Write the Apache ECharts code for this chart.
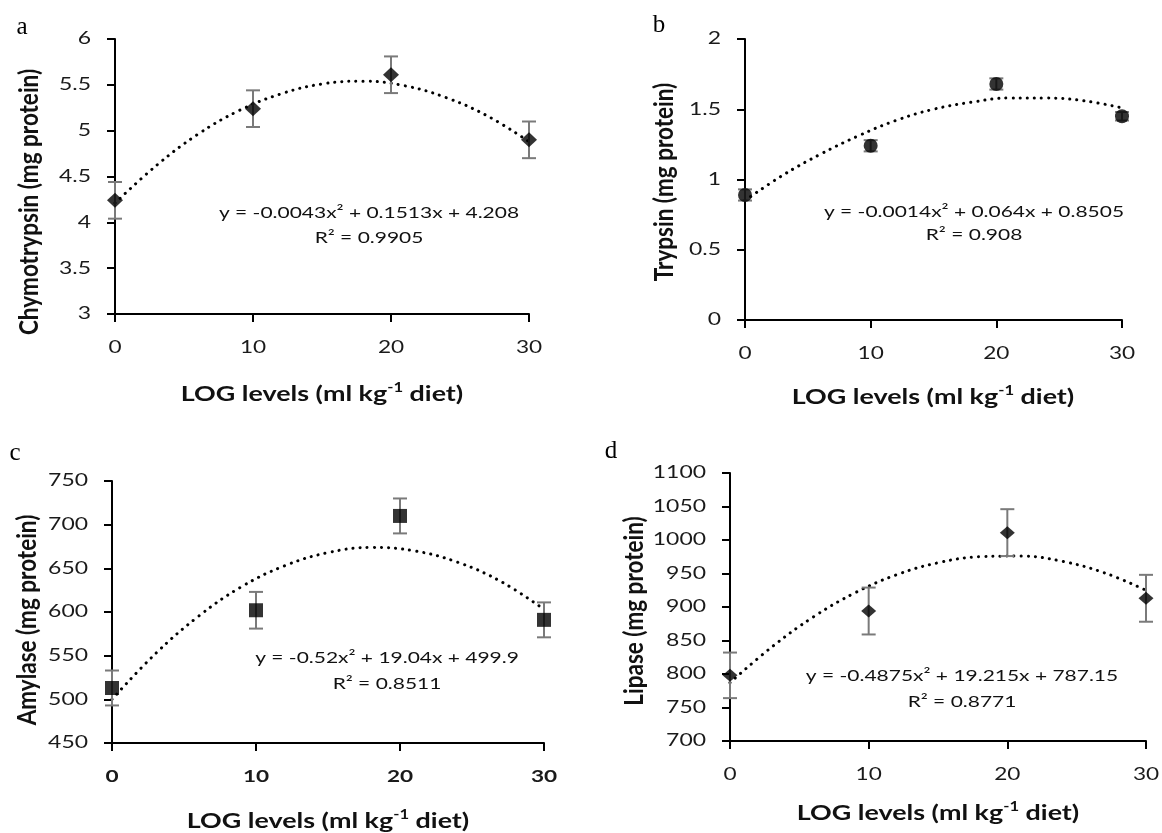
<!DOCTYPE html>
<html><head><meta charset="utf-8">
<script src="https://cdn.jsdelivr.net/npm/echarts@6/dist/echarts.min.js"></script>
<style>html,body{margin:0;padding:0;background:#fff}#c{width:1162px;height:833px}</style>
</head><body><div id="c"></div>
<script>
// ---------- data ----------
const levels = [0, 10, 20, 30];
const xTickLabels = [0, 10, 20, 30];

const chymoMean = [4.24, 5.24, 5.61, 4.90];
const chymoErr  = [0.20, 0.20, 0.20, 0.20];
const trypMean  = [0.89, 1.24, 1.68, 1.45];
const trypErr   = [0.04, 0.04, 0.04, 0.03];
const amylMean  = [513, 602, 710, 591];
const amylErr   = [20, 21, 20, 20];
const lipaMean  = [798, 894, 1011, 913];
const lipaErr   = [34, 35, 35, 35];

// dotted trend curves
const trendX     = [0, 3, 6, 9, 12, 15, 18, 21, 24, 27, 30];
const chymoTrend = [4.21, 4.62, 4.96, 5.22, 5.40, 5.51, 5.54, 5.49, 5.36, 5.16, 4.88];
const trypTrend  = [0.85, 1.03, 1.18, 1.31, 1.42, 1.50, 1.55, 1.58, 1.58, 1.56, 1.51];
const amylTrend  = [500, 552, 595, 629, 653, 668, 674, 670, 657, 635, 603];
const lipaTrend  = [787, 840, 885, 921, 948, 966, 975, 976, 968, 951, 925];

// y tick labels
const chymoTicks = [3, 3.5, 4, 4.5, 5, 5.5, 6];
const trypTicks  = [0, 0.5, 1, 1.5, 2];
const amylTicks  = [450, 500, 550, 600, 650, 700, 750];
const lipaTicks  = [700, 750, 800, 850, 900, 950, 1000, 1050, 1100];

const panelLetters = ['a', 'b', 'c', 'd'];
const yTitles = ['Chymotrypsin (mg protein)', 'Trypsin (mg protein)', 'Amylase (mg protein)', 'Lipase (mg protein)'];
const equations = [
  ['y = -0.0043x² + 0.1513x + 4.208', 'R² = 0.9905'],
  ['y = -0.0014x² + 0.064x + 0.8505', 'R² = 0.908'],
  ['y = -0.52x² + 19.04x + 499.9', 'R² = 0.8511'],
  ['y = -0.4875x² + 19.215x + 787.15', 'R² = 0.8771']
];

// ---------- layout / style ----------
const FONT = 'Lato';
const STRETCH = 1.33;           // the figure is drawn horizontally stretched
const grids = [
  {left: 115, top: 39, width: 414, height: 275},
  {left: 745, top: 39, width: 377, height: 281},
  {left: 112, top: 481, width: 432, height: 262},
  {left: 730, top: 473, width: 416, height: 268}
];
const yTicks = [chymoTicks, trypTicks, amylTicks, lipaTicks];
const means = [chymoMean, trypMean, amylMean, lipaMean];
const errs = [chymoErr, trypErr, amylErr, lipaErr];
const trends = [chymoTrend, trypTrend, amylTrend, lipaTrend];
const symbols = ['diamond', 'circle', 'rect', 'diamond'];
const symbolSizes = [[16, 15], 14, 14, [15, 13]];
const xLabelBold = [false, false, true, false];

const axisLine = {show: true, onZero: false, lineStyle: {color: '#000', width: 2}};
const axisTick = {show: true, inside: false, length: 8, lineStyle: {color: '#000', width: 2}};

const xAxis = grids.map((g, i) => ({
  type: 'value', gridIndex: i, min: 0, max: 30, interval: 10,
  axisLine, axisTick, splitLine: {show: false}, axisLabel: {show: false}
}));
const yAxis = grids.map((g, i) => {
  const t = yTicks[i];
  return {
    type: 'value', gridIndex: i, min: t[0], max: t[t.length - 1], interval: t[1] - t[0],
    axisLine, axisTick, splitLine: {show: false}, axisLabel: {show: false}
  };
});

function errRender(params, api) {
  const x = api.value(0), y = api.value(1), e = api.value(2);
  const top = api.coord([x, y + e]), bot = api.coord([x, y - e]);
  const cw = 7;
  const style = {stroke: '#7a7a7a', lineWidth: 2};
  return {type: 'group', children: [
    {type: 'line', shape: {x1: top[0], y1: top[1], x2: bot[0], y2: bot[1]}, style},
    {type: 'line', shape: {x1: top[0] - cw, y1: top[1], x2: top[0] + cw, y2: top[1]}, style},
    {type: 'line', shape: {x1: bot[0] - cw, y1: bot[1], x2: bot[0] + cw, y2: bot[1]}, style}
  ]};
}

const series = [];
grids.forEach((g, i) => {
  series.push({
    type: 'line', xAxisIndex: i, yAxisIndex: i, smooth: 0.4, symbol: 'none', silent: true,
    data: trendX.map((x, k) => [x, trends[i][k]]),
    lineStyle: {color: '#000', width: 3, type: [0.1, 7], cap: 'round'}, z: 2
  });
  series.push({
    type: 'custom', xAxisIndex: i, yAxisIndex: i, renderItem: errRender, clip: false,
    data: levels.map((x, k) => [x, means[i][k], errs[i][k]]), z: 3
  });
  series.push({
    type: 'scatter', xAxisIndex: i, yAxisIndex: i, symbol: symbols[i], symbolSize: symbolSizes[i],
    itemStyle: {color: '#000'}, data: levels.map((x, k) => [x, means[i][k]]), z: 4
  });
});

const chart = echarts.init(document.getElementById('c'));
chart.setOption({
  animation: false,
  backgroundColor: '#fff',
  grid: grids.map(g => Object.assign({containLabel: false}, g)),
  xAxis, yAxis, series
});

// ---------- texts (tick labels placed through the axes' own scales) ----------
const letterPos = [[22, 27], [659, 25], [15, 453], [611, 451]];
const yTitlePos = [[29, 202], [664, 182], [27, 620], [634, 611]];
const xTitlePos = [[322, 394], [933, 397], [328, 821], [938, 813]];
const eqPos = [[369, 213], [974, 212], [387, 658], [962, 676]];
const eqGap = [25, 23, 26, 26];

const graphic = [];
grids.forEach((g, i) => {
  const t = yTicks[i];
  const x0 = 0, y0 = t[0];
  // y tick labels
  t.forEach(v => {
    const p = chart.convertToPixel({gridIndex: i}, [x0, v]);
    graphic.push({type: 'text', x: p[0] - 24, y: p[1], scaleX: STRETCH + 0.02, silent: true,
      style: {text: String(v), font: '17px ' + FONT, fill: '#1a1a1a', align: 'right', verticalAlign: 'middle'}});
  });
  // x tick labels
  xTickLabels.forEach(v => {
    const p = chart.convertToPixel({gridIndex: i}, [v, y0]);
    graphic.push({type: 'text', x: p[0], y: p[1] + 34, scaleX: STRETCH, silent: true,
      style: {text: String(v), font: (xLabelBold[i] ? 'bold ' : '') + '17px ' + FONT, fill: '#1a1a1a', align: 'center', verticalAlign: 'middle'}});
  });
  graphic.push({type: 'text', x: letterPos[i][0], y: letterPos[i][1], silent: true,
    style: {text: panelLetters[i], font: '25px "Liberation Serif"', fill: '#000', align: 'center', verticalAlign: 'middle'}});
  graphic.push({type: 'text', x: yTitlePos[i][0], y: yTitlePos[i][1], rotation: Math.PI / 2, scaleY: 1.2, silent: true,
    style: {text: yTitles[i], font: 'bold 22.5px ' + FONT, fill: '#111', align: 'center', verticalAlign: 'middle'}});
  graphic.push({type: 'text', x: xTitlePos[i][0], y: xTitlePos[i][1], scaleX: 1.28, silent: true,
    style: {text: '{t|LOG levels (ml kg}{s|-1}{t| diet)}', align: 'center', verticalAlign: 'middle',
      rich: {t: {font: 'bold 21px ' + FONT, fill: '#111'}, s: {font: 'bold 13px ' + FONT, fill: '#111', padding: [0, 0, 12, 0]}}}});
  graphic.push({type: 'text', x: eqPos[i][0], y: eqPos[i][1], scaleX: 1.31, silent: true,
    style: {text: equations[i][0], font: '16px ' + FONT, fill: '#111', align: 'center', verticalAlign: 'middle'}});
  graphic.push({type: 'text', x: eqPos[i][0], y: eqPos[i][1] + eqGap[i], scaleX: 1.31, silent: true,
    style: {text: equations[i][1], font: '16px ' + FONT, fill: '#111', align: 'center', verticalAlign: 'middle'}});
});
chart.setOption({graphic});
</script>
</body></html>
